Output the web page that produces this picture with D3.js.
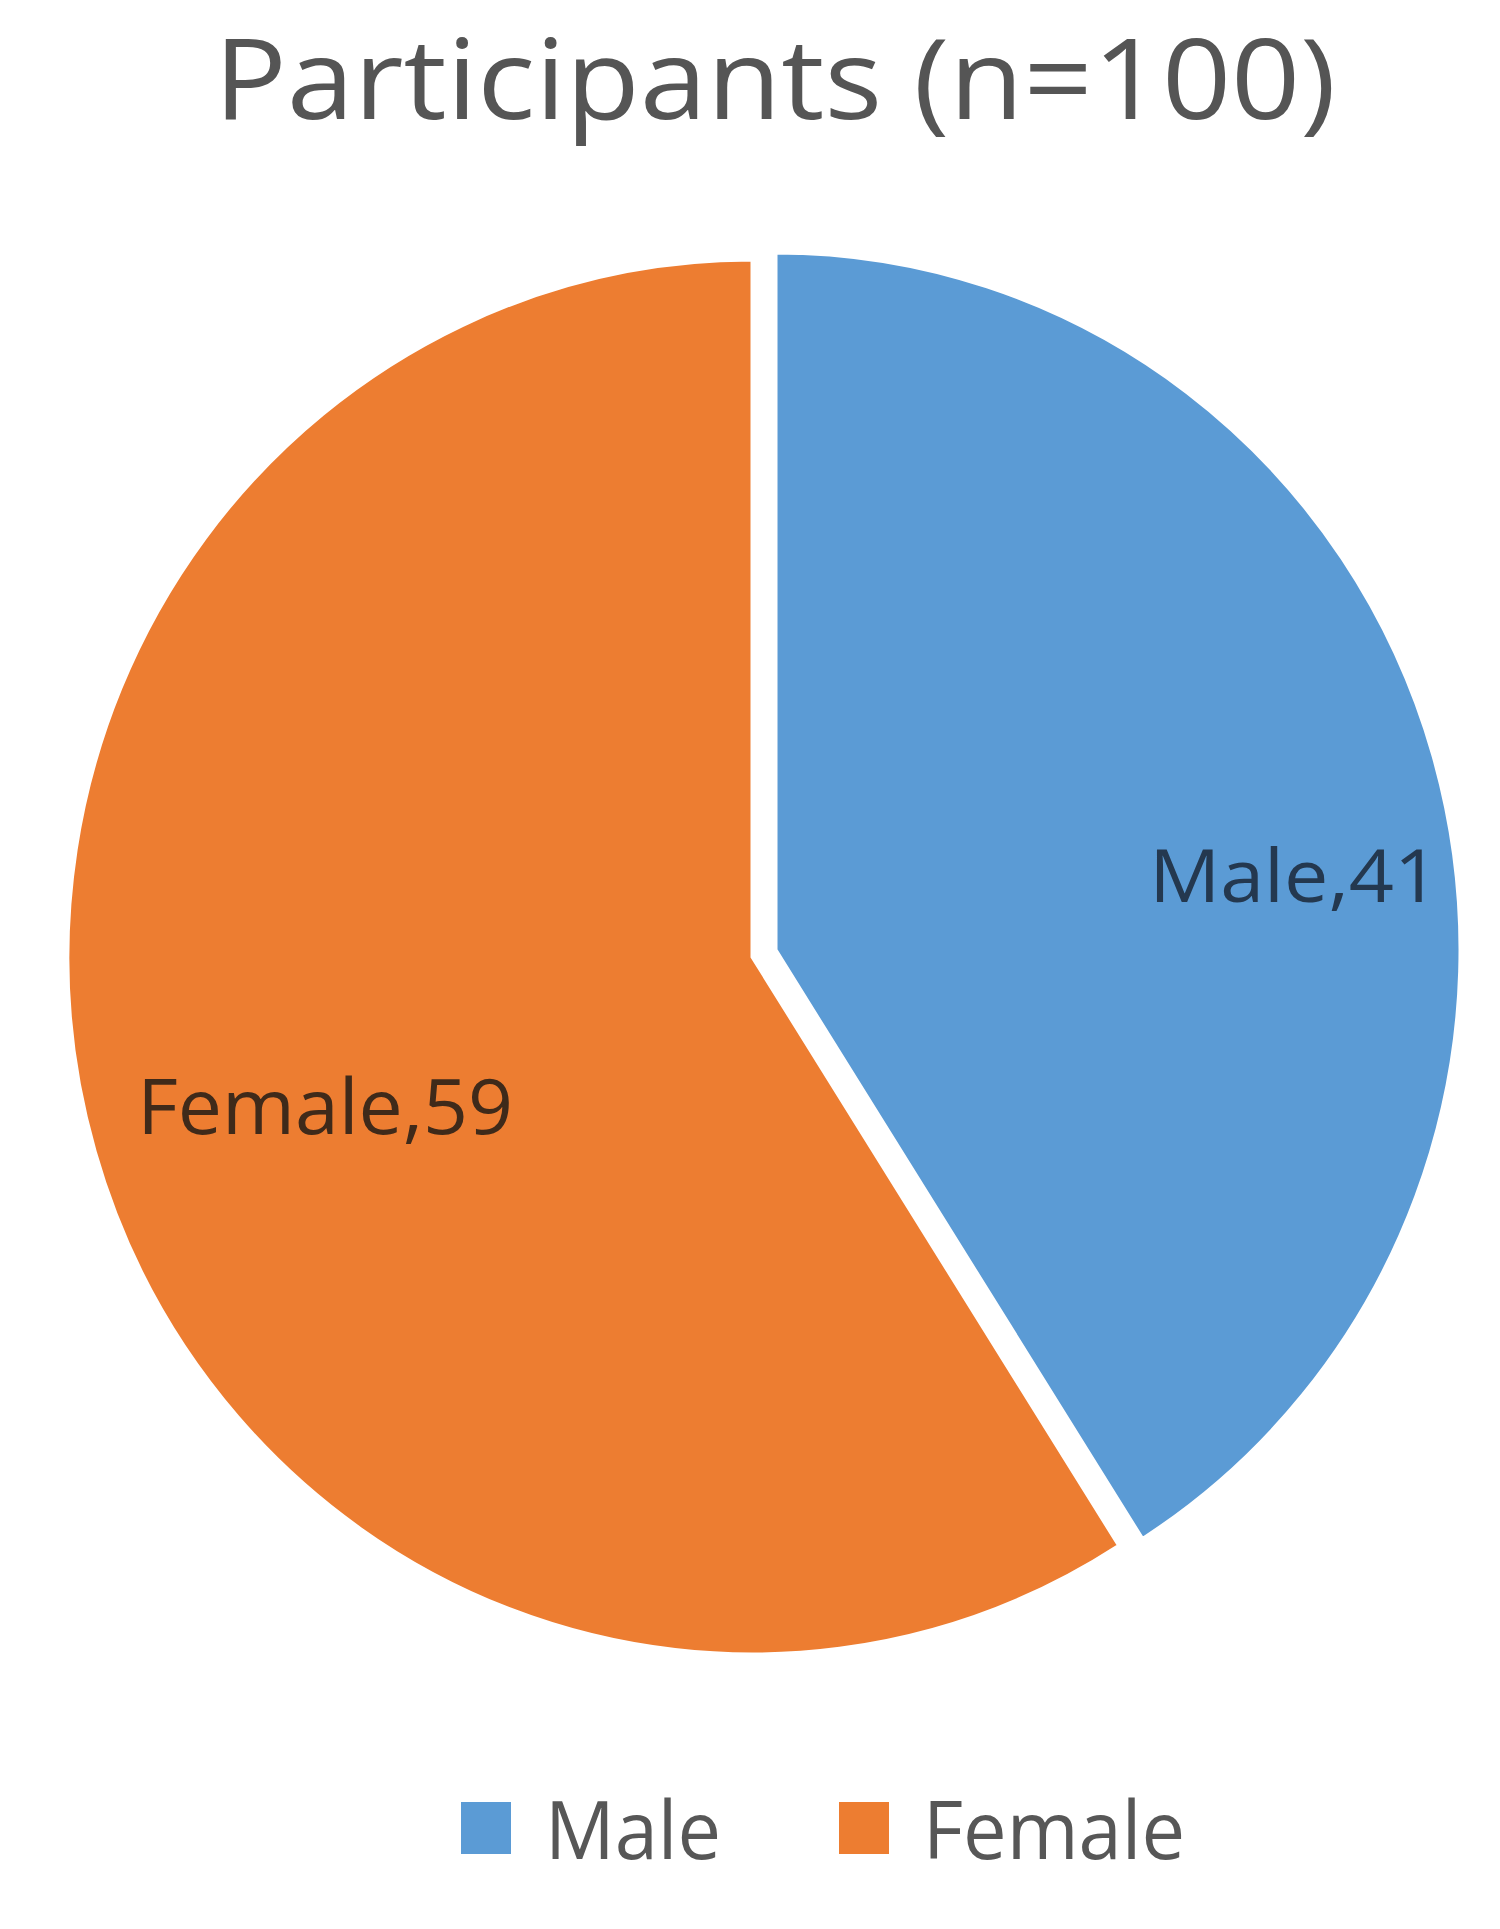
<!DOCTYPE html>
<html>
<head>
<meta charset="utf-8">
<script src="https://cdn.jsdelivr.net/npm/d3@7"></script>
<style>
  html, body { margin: 0; padding: 0; background: #fff; }
  svg { display: block; }
  text { font-family: "Open Sans", "Noto Sans", sans-serif; }
</style>
</head>
<body>
<svg id="chart"></svg>
<script>
// ---- DATA ----
const categories = ["Male", "Female"];
const counts = [41, 59];
const chartTitle = "Participants (n=100)";

// ---- CONFIG ----
const width = 1500;
const height = 1929;
const colors = ["#5b9bd5", "#ed7d31"];
const labelColors = ["#24384f", "#3f2a1a"];

const cx = 752, cy = 957;
const rx = 684, ry = 697;      // picture is slightly taller than wide
const explode = 25;            // male slice pulled out

const svg = d3.select("#chart")
  .attr("width", width)
  .attr("height", height);

// title
svg.append("text")
  .attr("x", 214)
  .attr("y", 119)
  .attr("fill", "#555555")
  .attr("font-size", 112)
  .attr("textLength", 1122)
  .attr("lengthAdjust", "spacingAndGlyphs")
  .text(chartTitle);

// ---- PIE ----
const rows = categories.map((c, i) => ({ name: c, value: counts[i] }));

const pie = d3.pie()
  .value(d => d.value)
  .sort(null)
  .startAngle(0)
  .endAngle(2 * Math.PI);

const arcs = pie(rows);

const arc = d3.arc()
  .innerRadius(0)
  .outerRadius(rx);

const pieG = svg.append("g")
  .attr("transform", `translate(${cx},${cy}) scale(1,${ry / rx})`);

pieG.selectAll("path.slice")
  .data(arcs)
  .join("path")
  .attr("class", "slice")
  .attr("transform", (d, i) => {
    if (i !== 0) return null;
    const mid = (d.startAngle + d.endAngle) / 2;
    return `translate(${explode * Math.sin(mid)},${-explode * Math.cos(mid)})`;
  })
  .attr("d", arc)
  .attr("fill", (d, i) => colors[i])
  .attr("stroke", "#fff")
  .attr("stroke-width", 3)
  .attr("vector-effect", "non-scaling-stroke");

// ---- DATA LABELS ----
// best-fit placement: angle (deg from top) and radius fraction per slice
const labelPlace = [
  { angle: 82, frac: 0.765, width: 290, size: 74 },
  { angle: 251, frac: 0.66, width: 376, size: 76 }
];

arcs.forEach((d, i) => {
  const p = labelPlace[i];
  const a = p.angle * Math.PI / 180;
  const mid = (d.startAngle + d.endAngle) / 2;
  const off = i === 0 ? explode : 0;
  const x = cx + off * Math.sin(mid) + rx * p.frac * Math.sin(a);
  const y = cy - off * Math.cos(mid) * (ry / rx) - ry * p.frac * Math.cos(a);
  svg.append("text")
    .attr("x", x - p.width / 2)
    .attr("y", y + p.size * 0.36)
    .attr("fill", labelColors[i])
    .attr("font-size", p.size)
    .attr("textLength", p.width)
    .attr("lengthAdjust", "spacingAndGlyphs")
    .text(`${d.data.name},${d.data.value}`);
});

// ---- LEGEND ----
const legendX = d3.scalePoint()
  .domain(categories)
  .range([461, 839]);
const legendTextWidth = { Male: 176, Female: 262 };

const legend = svg.append("g").attr("class", "legend");

categories.forEach((c, i) => {
  const x = legendX(c);
  legend.append("rect")
    .attr("x", x)
    .attr("y", 1802)
    .attr("width", 50)
    .attr("height", 52)
    .attr("fill", colors[i]);
  legend.append("text")
    .attr("x", x + 84)
    .attr("y", 1859)
    .attr("fill", "#575757")
    .attr("font-size", 80)
    .attr("textLength", legendTextWidth[c])
    .attr("lengthAdjust", "spacingAndGlyphs")
    .text(c);
});
</script>
</body>
</html>
